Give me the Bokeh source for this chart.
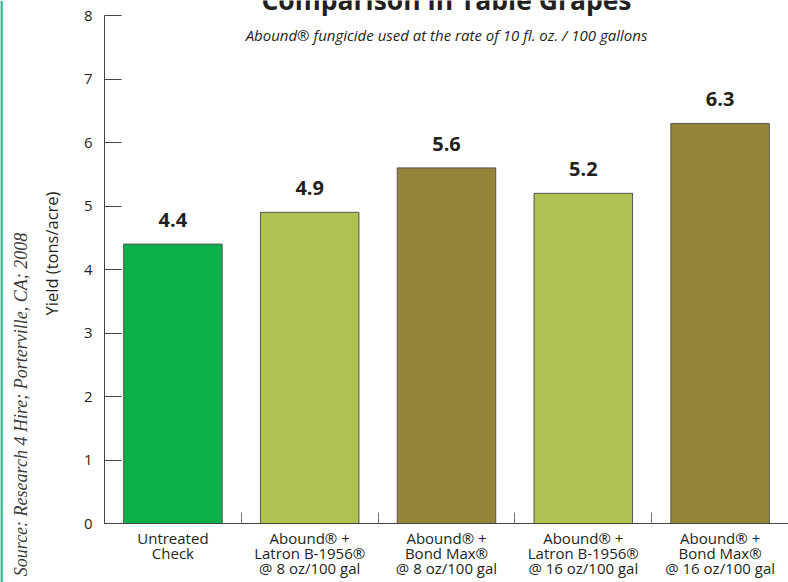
import math
from bokeh.plotting import figure
from bokeh.models import FixedTicker, Label, ColumnDataSource, Range1d, Span
from bokeh.core.properties import value
from bokeh.embed import file_html
from bokeh.resources import INLINE

# category labels, one list of text lines per bar
categories = [
    ["Untreated", "Check"],
    ["Abound® +", "Latron B-1956®", "@ 8 oz/100 gal"],
    ["Abound® +", "Bond Max®", "@ 8 oz/100 gal"],
    ["Abound® +", "Latron B-1956®", "@ 16 oz/100 gal"],
    ["Abound® +", "Bond Max®", "@ 16 oz/100 gal"],
]
yields = [4.4, 4.9, 5.6, 5.2, 6.3]
value_labels = ["4.4", "4.9", "5.6", "5.2", "6.3"]
bar_colors = ["#0cb04a", "#adc250", "#968439", "#adc250", "#968439"]
y_ticks = [0, 1, 2, 3, 4, 5, 6, 7, 8]
y_max = 8

title_text = "Comparison in Table Grapes"
subtitle_text = "Abound® fungicide used at the rate of 10 fl. oz. / 100 gallons"
y_label_text = "Yield (tons/acre)"
source_text = "Source: Research 4 Hire; Porterville, CA; 2008"

W, H = 788, 582
FONT = "Open Sans"
TXT = "#231f20"

n = len(categories)
centers = [i + 0.5 for i in range(n)]
boundaries = [i for i in range(1, n)]
zeros = [0] * n

# frame covers the whole canvas; the axes are pinned at x=0 / y=0
px_x = (W - 104) / n          # pixels per category
px_y = (523 - 15) / y_max     # pixels per yield unit
x_rng = Range1d(-104 / px_x, n)
y_rng = Range1d(-(H - 523) / px_y, 523 / px_y)

src = ColumnDataSource(dict(x=centers, top=yields, color=bar_colors, lab=value_labels))

p = figure(width=W, height=H, output_backend="svg", toolbar_location=None,
           x_range=x_rng, y_range=y_rng,
           min_border_left=0, min_border_right=0, min_border_top=0, min_border_bottom=0)
p.outline_line_color = None
p.xgrid.grid_line_color = None
p.ygrid.grid_line_color = None

p.vbar(x="x", top="top", width=0.72, source=src, fill_color="color",
       line_color="#555555", line_width=1)
p.text(x="x", y="top", text="lab", source=src, y_offset=-24,
       text_align="center", text_baseline="alphabetic",
       text_font=value(FONT), text_font_style="bold", text_font_size="20px",
       text_color=TXT)

# category labels below the axis, line by line
max_lines = max(len(c) for c in categories)
for k in range(max_lines):
    xs = [centers[i] for i, c in enumerate(categories) if len(c) > k]
    ts = [c[k] for c in categories if len(c) > k]
    line_src = ColumnDataSource(dict(x=xs, y=[0] * len(xs), t=ts))
    p.text(x="x", y="y", text="t", source=line_src, y_offset=14 + 15 * k,
           text_align="center", text_baseline="middle",
           text_font=value(FONT), text_font_size="15px", text_color=TXT)

# x axis (pinned at y=0)
xa = p.xaxis[0]
xa.fixed_location = 0
xa.bounds = (0, n)
xa.ticker = FixedTicker(ticks=centers, minor_ticks=boundaries)
xa.major_label_text_alpha = 0
xa.major_label_text_font_size = "1px"
xa.major_tick_line_color = None
xa.minor_tick_in = 11
xa.minor_tick_out = 0
xa.minor_tick_line_color = "#777777"
xa.axis_line_color = "#444444"

# y axis (pinned at x=0)
ya = p.yaxis[0]
ya.fixed_location = 0
ya.bounds = (0, y_max)
ya.ticker = FixedTicker(ticks=y_ticks)
ya.major_tick_in = 17
ya.major_tick_out = 0
ya.minor_tick_line_color = None
ya.major_tick_line_color = "#444444"
ya.axis_line_color = "#444444"
ya.major_label_text_font = FONT
ya.major_label_text_font_size = "15px"
ya.major_label_text_color = TXT
ya.major_label_standoff = 12

p.add_layout(Span(location=1, dimension="height", location_units="canvas",
                  line_color="#19c08b", line_width=2.5))

p.add_layout(Label(x=446, y=-1, x_units="canvas", y_units="canvas",
                   text=title_text, text_font=FONT, text_font_style="bold",
                   text_font_size="26.5px", text_align="center",
                   text_baseline="alphabetic", text_color=TXT))
p.add_layout(Label(x=446, y=34, x_units="canvas", y_units="canvas",
                   text=subtitle_text, text_font=FONT, text_font_style="italic",
                   text_font_size="15px", text_align="center",
                   text_baseline="alphabetic", text_color=TXT))
p.add_layout(Label(x=51, y=253, x_units="canvas", y_units="canvas",
                   text=y_label_text, text_font=FONT, text_font_size="16.5px",
                   angle=math.pi / 2, text_align="center", text_baseline="middle",
                   text_color=TXT))
p.add_layout(Label(x=20, y=404, x_units="canvas", y_units="canvas",
                   text=source_text, text_font="Liberation Serif", text_font_style="italic",
                   text_font_size="18px", angle=math.pi / 2, text_align="center",
                   text_baseline="middle", text_color="#3a3a3a"))

open("out.html", "w").write(file_html(p, INLINE))
